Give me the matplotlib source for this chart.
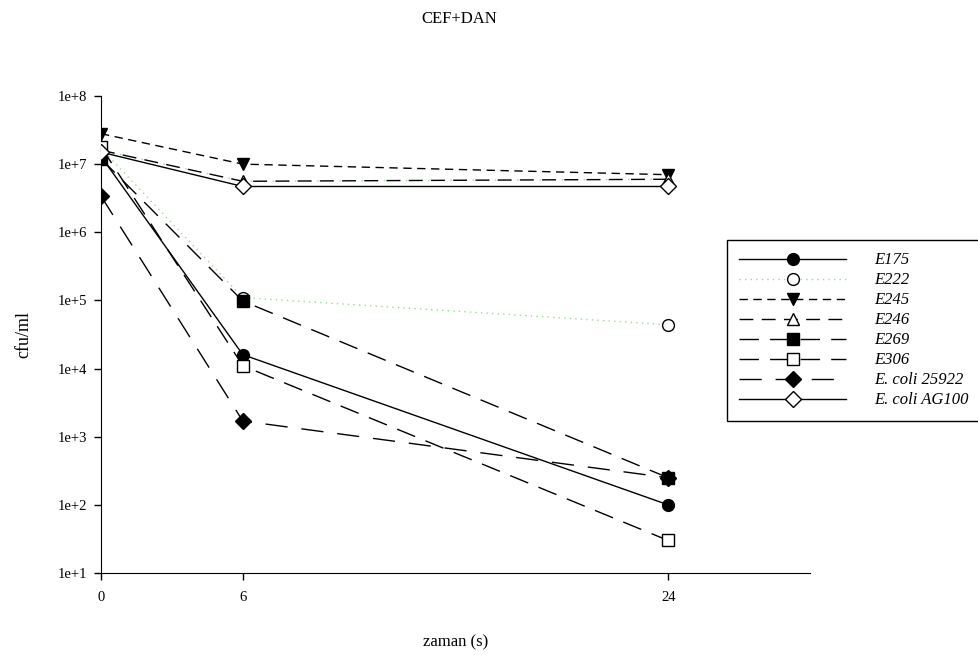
import matplotlib.pyplot as plt
from matplotlib.lines import Line2D

plt.rcParams['font.family'] = ['Liberation Serif', 'DejaVu Serif']

zaman = [0, 6, 24]
E175 = [1.3e7, 1.6e4, 1.0e2]
E222 = [1.7e7, 1.1e5, 4.4e4]
E245 = [2.8e7, 1.0e7, 7.0e6]
E246 = [1.6e7, 5.6e6, 6.0e6]
E269 = [1.2e7, 9.8e4, 2.5e2]
E306 = [1.8e7, 1.1e4, 3.0e1]
coli25922 = [3.4e6, 1.7e3, 2.5e2]
coliAG100 = [1.5e7, 4.7e6, 4.7e6]

names = ['E175', 'E222', 'E245', 'E246', 'E269', 'E306', 'E. coli 25922', 'E. coli AG100']
series = [E175, E222, E245, E246, E269, E306, coli25922, coliAG100]

green = '#90e090'
# (black dashes, green dots, marker, fill)
styles = [
    ('-', None, 'o', 'black'),
    (None, (0, (1, 3)), 'o', 'white'),
    ((0, (6, 4)), None, 'v', 'black'),
    ((0, (10, 6)), (7, (1, 4, 1, 10)), '^', 'white'),
    ((0, (14, 8)), None, 's', 'black'),
    ((0, (14, 8)), (16, (1, 21)), 's', 'white'),
    ((0, (16, 10)), None, 'D', 'black'),
    ('-', None, 'D', 'white'),
]

fig = plt.figure(figsize=(9.79, 6.56), dpi=100)
ax = fig.add_axes([101/979, 1-573/656, (810-101)/979, (573-96)/656])

handles = []
for name, vals, (ls, gls, mk, fc) in zip(names, series, styles):
    ms = 8 if mk == 'D' else 8.5
    if gls is not None:
        ax.plot(zaman, vals, color=green, linestyle=gls, linewidth=1, zorder=2)
    if ls is not None:
        ax.plot(zaman, vals, color='black', linestyle=ls, linewidth=1, zorder=2)
    ax.plot(zaman, vals, linestyle='none', marker=mk, markersize=ms,
            markerfacecolor=fc, markeredgecolor='black', markeredgewidth=1, zorder=3)
    h = Line2D([], [], color='black' if ls is not None else green,
               linestyle=ls if ls is not None else gls, linewidth=1,
               marker=mk, markersize=ms, markerfacecolor=fc, markeredgecolor='black')
    handles.append(h)

ax.set_yscale('log')
ax.set_ylim(10, 1e8)
ax.set_xlim(0, 30)
ax.set_xticks(zaman)
ax.set_yticks([10**k for k in range(1, 9)])
ax.set_yticklabels(['1e+%d' % k for k in range(1, 9)])
ax.minorticks_off()
ax.tick_params(direction='out', length=5, labelsize=10.5, width=1, pad=5)
ax.tick_params(axis='x', pad=8)
ax.spines['top'].set_visible(False)
ax.spines['right'].set_visible(False)
ax.set_xlabel('zaman (s)', fontsize=12, labelpad=22)
ax.set_ylabel('cfu/ml', fontsize=13, labelpad=18)

fig.text(459/979, 1-19/656, 'CEF+DAN', ha='center', va='center', fontsize=12)

leg = fig.legend(handles, names, loc='upper left', bbox_to_anchor=(727/979, 1-240/656),
                 prop={'style': 'italic', 'size': 12}, handlelength=6.4,
                 labelspacing=0.24, handletextpad=1.7, borderpad=0.75,
                 borderaxespad=0, fancybox=False, edgecolor='black', framealpha=1)
leg.get_frame().set_linewidth(1)

fig.savefig('out.png', dpi=100)
